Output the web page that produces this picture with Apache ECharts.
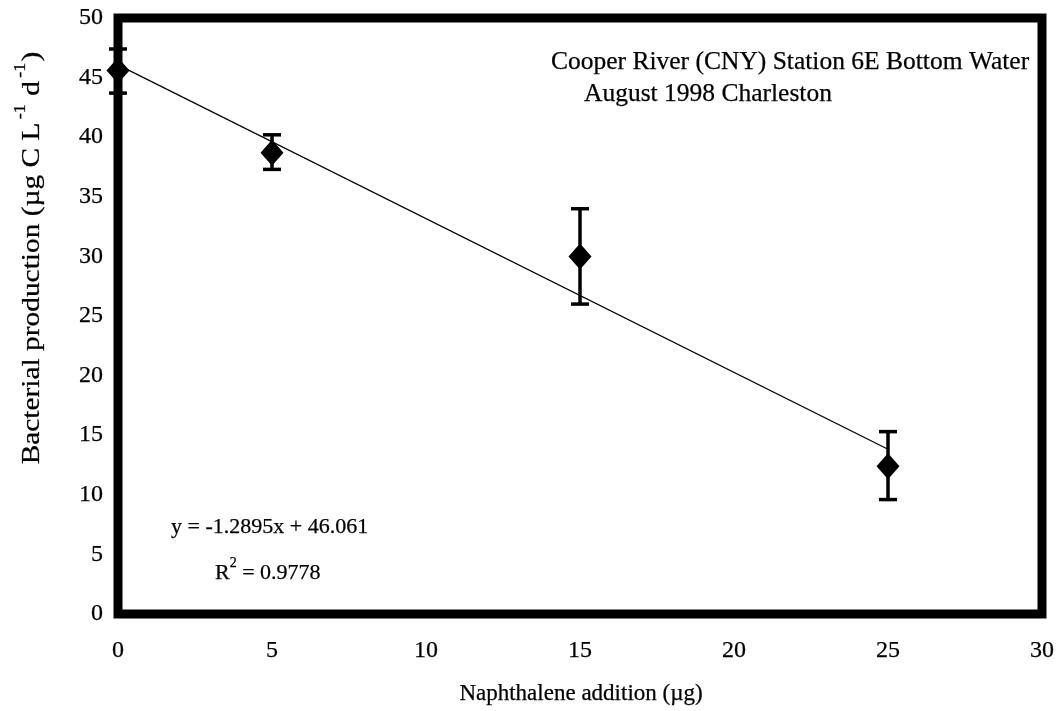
<!DOCTYPE html>
<html>
<head>
<meta charset="utf-8">
<script src="https://cdn.jsdelivr.net/npm/echarts@6/dist/echarts.min.js"></script>
<style>
  html, body { margin: 0; padding: 0; background: #fff; }
  #chart { width: 1060px; height: 711px; }
</style>
</head>
<body>
<div id="chart"></div>
<script>
// Naphthalene additions (µg) and measured bacterial production
const naphthalene = [0, 5, 15, 25];
const production = [45.6, 38.7, 30.0, 12.4];
const errorHigh = [47.4, 40.2, 34.0, 15.3];
const errorLow = [43.7, 37.3, 26.0, 9.6];

// Linear fit endpoints (y = -1.2895x + 46.061)
const fitX = [0, 25];
const fitY = [46.061, 13.824];

const xTicks = { min: 0, max: 30, interval: 5 };
const yTicks = { min: 0, max: 50, interval: 5 };

const FONT = '"Liberation Serif", "Times New Roman", serif';
const INK = { fill: '#000', stroke: '#000', lineWidth: 0.25 };

const chart = echarts.init(document.getElementById('chart'));

const pointData = naphthalene.map((x, i) => [x, production[i]]);
const errData = naphthalene.map((x, i) => [x, errorLow[i], errorHigh[i]]);
const fitData = fitX.map((x, i) => [x, fitY[i]]);

const labelStyle = {
  fontFamily: FONT, fontSize: 24, color: '#000',
  textBorderColor: '#000', textBorderWidth: 0.25
};

chart.setOption({
  animation: false,
  backgroundColor: '#fff',
  grid: {
    left: 118, right: 18, top: 18, bottom: 97,
    show: true, borderColor: '#000', borderWidth: 9, backgroundColor: 'transparent'
  },
  xAxis: {
    type: 'value',
    min: xTicks.min, max: xTicks.max, interval: xTicks.interval,
    axisLine: { show: false },
    axisTick: { show: true, length: 4, lineStyle: { color: '#000', width: 1.5 } },
    axisLabel: Object.assign({ margin: 25 }, labelStyle),
    splitLine: { show: false }
  },
  yAxis: {
    type: 'value',
    min: yTicks.min, max: yTicks.max, interval: yTicks.interval,
    axisLine: { show: false },
    axisTick: { show: true, length: 4, lineStyle: { color: '#000', width: 1.5 } },
    axisLabel: Object.assign({ margin: 15 }, labelStyle),
    splitLine: { show: false }
  },
  series: [
    {
      type: 'line',
      data: fitData,
      symbol: 'none',
      lineStyle: { color: '#000', width: 1.3 },
      z: 2
    },
    {
      type: 'custom',
      data: errData,
      z: 3,
      renderItem: function (params, api) {
        const x = api.value(0);
        const lo = api.coord([x, api.value(1)]);
        const hi = api.coord([x, api.value(2)]);
        const half = 9;
        const style = { stroke: '#000', lineWidth: 3.5 };
        return {
          type: 'group',
          children: [
            { type: 'line', shape: { x1: lo[0], y1: lo[1], x2: hi[0], y2: hi[1] }, style: style },
            { type: 'line', shape: { x1: lo[0] - half, y1: lo[1], x2: lo[0] + half, y2: lo[1] }, style: style },
            { type: 'line', shape: { x1: hi[0] - half, y1: hi[1], x2: hi[0] + half, y2: hi[1] }, style: style }
          ]
        };
      }
    },
    {
      type: 'scatter',
      data: pointData,
      symbol: 'diamond',
      symbolSize: [23, 26],
      itemStyle: { color: '#000', opacity: 1 },
      z: 4
    }
  ],
  graphic: [
    {
      // axis titles
      type: 'text', x: 581, y: 694,
      style: Object.assign({
        text: 'Naphthalene addition (µg)', fontFamily: FONT, fontSize: 23,
        align: 'center', verticalAlign: 'middle'
      }, INK)
    },
    {
      type: 'text', x: 29, y: 258, rotation: Math.PI / 2, scaleX: 1.13,
      style: Object.assign({
        text: '{n|Bacterial production (µg C L}{s|-1}{n| d}{s|-1}{n|)}',
        align: 'center', verticalAlign: 'middle',
        rich: {
          n: { fontFamily: FONT, fontSize: 26, fill: '#000', lineHeight: 32, verticalAlign: 'bottom' },
          s: { fontFamily: FONT, fontSize: 16, fill: '#000', lineHeight: 32, verticalAlign: 'top', padding: [0, 1, 12, 3] }
        }
      }, INK)
    },
    {
      // station annotation
      type: 'text', x: 551, y: 62,
      style: Object.assign({
        text: 'Cooper River (CNY) Station 6E Bottom Water', fontFamily: FONT, fontSize: 25.5,
        verticalAlign: 'middle'
      }, INK)
    },
    {
      type: 'text', x: 584, y: 94,
      style: Object.assign({
        text: 'August 1998 Charleston', fontFamily: FONT, fontSize: 25.5,
        verticalAlign: 'middle'
      }, INK)
    },
    {
      // regression annotation
      type: 'text', x: 171, y: 527,
      style: Object.assign({
        text: 'y = -1.2895x + 46.061', fontFamily: FONT, fontSize: 22,
        verticalAlign: 'middle'
      }, INK)
    },
    {
      type: 'text', x: 215, y: 570,
      style: Object.assign({
        text: '{n|R}{s|2}{n| = 0.9778}',
        verticalAlign: 'middle',
        rich: {
          n: { fontFamily: FONT, fontSize: 22, fill: '#000', lineHeight: 28, verticalAlign: 'bottom' },
          s: { fontFamily: FONT, fontSize: 14, fill: '#000', lineHeight: 28, verticalAlign: 'top', padding: [0, 0, 11, 0] }
        }
      }, INK)
    }
  ]
});
</script>
</body>
</html>
